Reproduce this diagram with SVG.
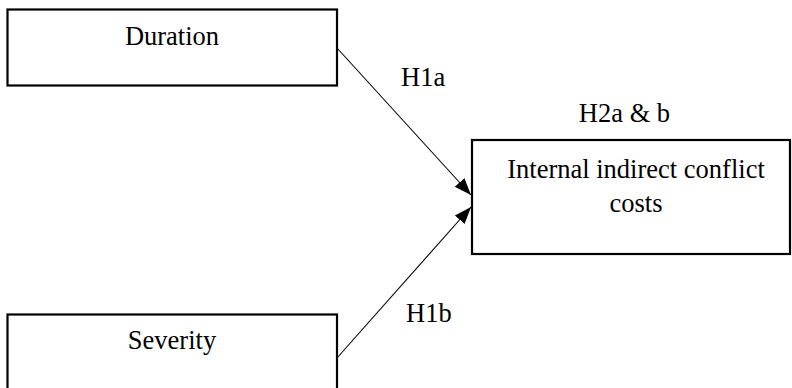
<svg xmlns="http://www.w3.org/2000/svg" width="792" height="388" viewBox="0 0 792 388">
  <style>
    .box { fill: #ffffff; stroke: #000000; stroke-width: 2.2; }
    .lbl { font-family: "Liberation Serif", "Times New Roman", serif; font-size: 26.5px; fill: #000000; }
    .mid { text-anchor: middle; }
    .edge { stroke: #000000; stroke-width: 1.1; fill: none; marker-end: url(#head); }
  </style>
  <defs>
    <marker id="head" markerUnits="userSpaceOnUse" markerWidth="17" markerHeight="15" viewBox="0 0 17 15" refX="17" refY="7.5" orient="auto">
      <polygon points="0,1 17,7.5 0,14" fill="#000000"/>
    </marker>
  </defs>
  <rect width="792" height="388" fill="#ffffff"/>

  <g id="connectors">
    <line class="edge" x1="337" y1="48" x2="471" y2="195"/>
    <line class="edge" x1="337" y1="358" x2="471" y2="207"/>
  </g>

  <g id="duration">
    <rect class="box" x="7.5" y="9.5" width="329.5" height="76"/>
    <text class="lbl mid" x="172" y="45">Duration</text>
  </g>

  <g id="severity">
    <rect class="box" x="7.5" y="314.5" width="329.5" height="90"/>
    <text class="lbl mid" x="172" y="349">Severity</text>
  </g>

  <g id="costs">
    <rect class="box" x="472" y="140" width="318" height="114"/>
    <text class="lbl mid" x="636" y="178">Internal indirect conflict</text>
    <text class="lbl mid" x="636" y="212">costs</text>
  </g>

  <g id="labels">
    <text class="lbl" x="401" y="86">H1a</text>
    <text class="lbl" x="406" y="322">H1b</text>
    <text class="lbl mid" x="624.5" y="122">H2a &amp; b</text>
  </g>
</svg>
